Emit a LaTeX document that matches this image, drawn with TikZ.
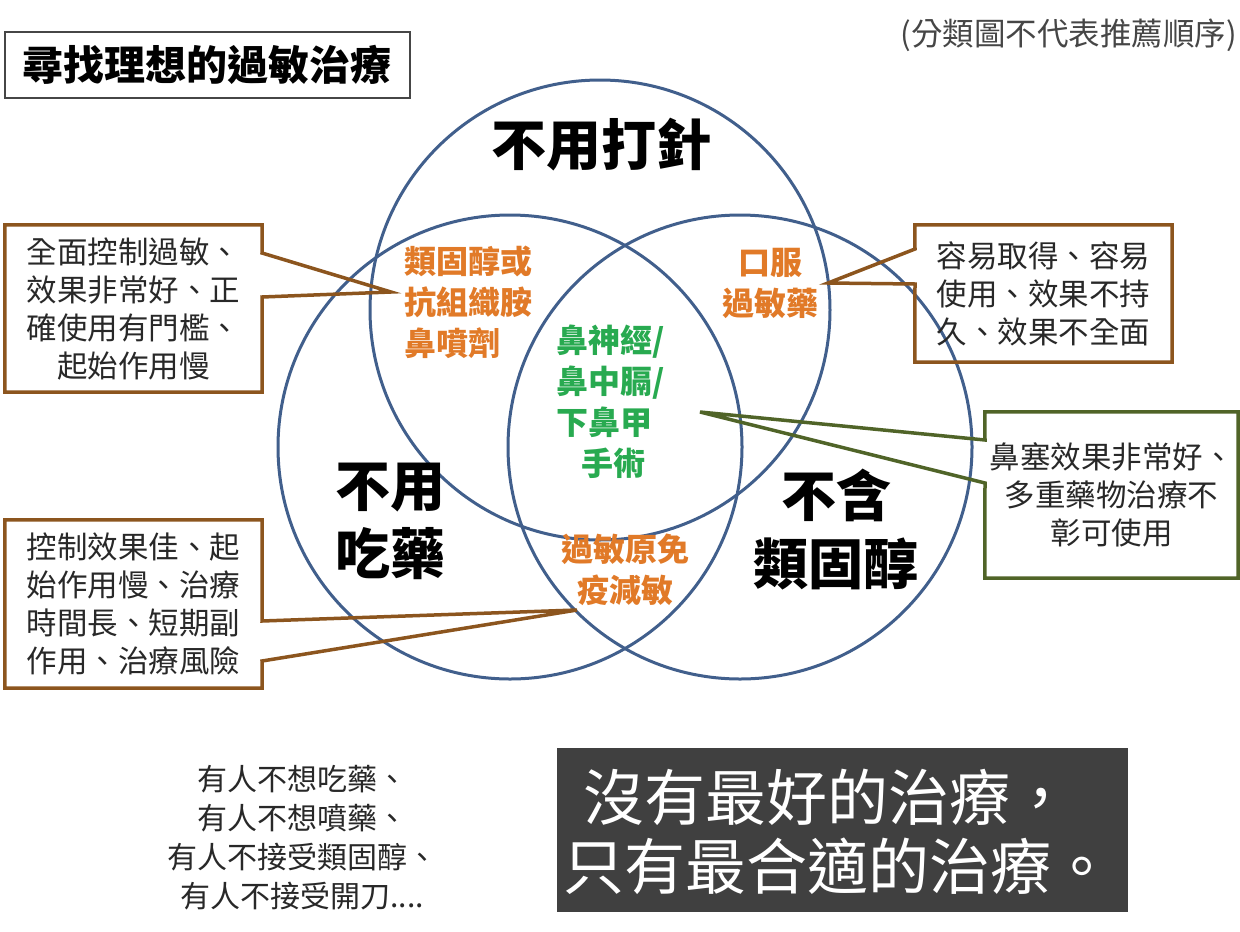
\documentclass[tikz,border=0pt]{standalone}
\usepackage{fontspec}
\setmainfont{Noto Sans CJK TC}
\definecolor{vennblue}{RGB}{65,95,140}
\definecolor{calloutbrown}{RGB}{140,85,30}
\definecolor{calloutgreen}{RGB}{80,100,40}
\definecolor{labelorange}{RGB}{225,122,40}
\definecolor{labelgreen}{RGB}{40,170,80}
\definecolor{darkbox}{RGB}{64,64,64}
\definecolor{bodytext}{RGB}{40,40,40}
\definecolor{notegray}{RGB}{70,70,70}
\begin{document}
\begin{tikzpicture}[x=1pt,y=-1pt,
  venn/.style={draw=vennblue,line width=3pt},
  biglabel/.style={inner sep=0pt,align=center,font=\fontsize{55}{68}\selectfont\bfseries,text=black},
  orangelabel/.style={inner sep=0pt,align=center,font=\fontsize{32}{41}\selectfont\bfseries,text=labelorange},
  greenlabel/.style={inner sep=0pt,align=left,font=\fontsize{32}{41}\selectfont\bfseries,text=labelgreen},
  calloutbox/.style={inner sep=0pt,align=center,font=\fontsize{30.5}{38}\selectfont,text=bodytext},
  browncallout/.style={draw=calloutbrown,line width=3.5pt,line join=miter},
  greencallout/.style={draw=calloutgreen,line width=3.5pt,line join=miter},
  bottomnote/.style={inner sep=0pt,align=center,font=\fontsize{30}{39}\selectfont,text=bodytext},
  mottoline/.style={anchor=west,inner sep=0pt,text=white,font=\fontsize{61}{64}\selectfont}]
\useasboundingbox (0,0) rectangle (1240,932);
\fill[white] (0,0) rectangle (1240,932);

% Venn circles
\draw[venn] (600,310) circle[radius=230];
\draw[venn] (510,447) circle[radius=232];
\draw[venn] (740,447) circle[radius=232];

% title
\node[draw=notegray,line width=1.3pt,minimum width=405pt,minimum height=66pt,inner sep=0pt,
  font=\fontsize{41}{46}\selectfont\bfseries] (title) at (207.5,65) {尋找理想的過敏治療};
\node[anchor=east,inner sep=0pt,font=\fontsize{31.5}{36}\selectfont,text=notegray] (note) at (1237,35) {(分類圖不代表推薦順序)};

% circle labels
\node[biglabel] (noinj) at (601,145) {不用打針};
\node[biglabel] (nopill) at (390,521) {不用\\吃藥};
\node[biglabel] (nosteroid) at (836,530) {不含\\類固醇};

\node[orangelabel,align=left,anchor=west] (spray) at (404,302) {類固醇或\\抗組織胺\\鼻噴劑};
\node[orangelabel] (oral) at (770,283) {口服\\過敏藥};
\node[orangelabel] (immuno) at (625,570) {過敏原免\\疫減敏};
\node[greenlabel,anchor=west] (surgery) at (556,402) {鼻神經/\\鼻中膈/\\下鼻甲\\\hspace*{25pt}手術};

% callout 1
\node[calloutbox,minimum width=257pt,minimum height=167pt] (c1) at (133.5,308.5) {全面控制過敏、\\效果非常好、正\\確使用有門檻、\\起始作用慢};
\coordinate (c1a) at (262,253);
\coordinate (c1tip) at (391,292);
\coordinate (c1b) at (262,297);
\draw[browncallout] (c1.north west) -- (c1.north east) -- (c1a) -- (c1tip) -- (c1b) -- (c1.south east) -- (c1.south west) -- cycle;

% callout 2
\node[calloutbox,minimum width=257pt,minimum height=168pt] (c2) at (133.5,604) {控制效果佳、起\\始作用慢、治療\\時間長、短期副\\作用、治療風險};
\coordinate (c2a) at (262,621);
\coordinate (c2tip) at (577,610);
\coordinate (c2b) at (262,661);
\draw[browncallout] (c2.north west) -- (c2.north east) -- (c2a) -- (c2tip) -- (c2b) -- (c2.south east) -- (c2.south west) -- cycle;

% callout 3
\node[calloutbox,minimum width=257pt,minimum height=137pt] (c3) at (1043.5,293.5) {容易取得、容易\\使用、效果不持\\久、效果不全面};
\coordinate (c3a) at (915,249);
\coordinate (c3tip) at (828,283);
\coordinate (c3b) at (915,284);
\draw[browncallout] (c3.north east) -- (c3.north west) -- (c3a) -- (c3tip) -- (c3b) -- (c3.south west) -- (c3.south east) -- cycle;

% callout 4
\node[calloutbox,minimum width=253pt,minimum height=166pt] (c4) at (1111.5,495) {鼻塞效果非常好、\\多重藥物治療不\\彰可使用};
\coordinate (c4a) at (985,440);
\coordinate (c4tip) at (700,412);
\coordinate (c4b) at (985,483);
\draw[greencallout] (c4.north east) -- (c4.north west) -- (c4a) -- (c4tip) -- (c4b) -- (c4.south west) -- (c4.south east) -- cycle;

% bottom notes
\node[bottomnote] (people) at (302,838) {有人不想吃藥、\\有人不想噴藥、\\有人不接受類固醇、\\有人不接受開刀....};

\node[fill=darkbox,minimum width=571pt,minimum height=164pt,inner sep=0pt] (motto) at (842.5,830) {};
\node[mottoline] (motto1) at (583,797) {沒有最好的治療，};
\node[mottoline] (motto2) at (563,866) {只有最合適的治療。};
\end{tikzpicture}
\end{document}
